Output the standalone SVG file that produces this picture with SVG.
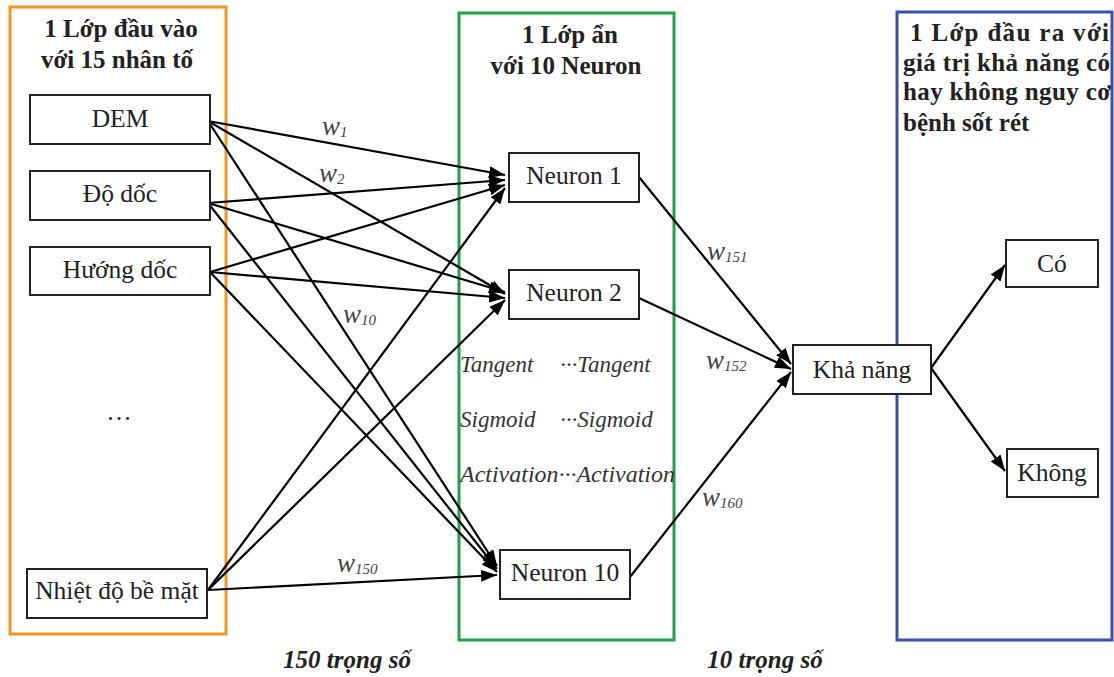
<svg xmlns="http://www.w3.org/2000/svg" width="1114" height="677" viewBox="0 0 1114 677">
<style>
  .frame{fill:none;stroke-width:3}
  .box{fill:#fff;stroke:#222;stroke-width:2}
  text{font-family:'Liberation Serif','Tinos','Times New Roman','DejaVu Serif',serif}
  .lbl{font-size:25.5px;fill:#222;text-anchor:middle}
  .ttl{font-size:25px;font-weight:bold;fill:#222}
  .mid{text-anchor:middle}
  .act{font-size:23px;font-style:italic;fill:#333}
  .w{font-size:27px;font-style:italic;fill:#444}
  .sub{font-size:15px}
  .foot{font-size:25px;font-style:italic;font-weight:bold;fill:#222;text-anchor:middle}
  .ln{stroke:#000;stroke-width:2.2;fill:none;marker-end:url(#ah)}
</style>
<defs>
  <marker id="ah" viewBox="0 0 16 12" refX="16" refY="6" markerWidth="16" markerHeight="12" markerUnits="userSpaceOnUse" orient="auto">
    <path d="M0,0 L16,6 L0,12 z" fill="#000"/>
  </marker>
</defs>
<rect width="1114" height="677" fill="#fff"/>

<g id="layer-frames">
  <rect id="input-layer" class="frame" x="10" y="7" width="216" height="627" stroke="#F7941D"/>
  <rect id="hidden-layer" class="frame" x="459" y="13" width="215" height="627" stroke="#1FA04A"/>
  <rect id="output-layer" class="frame" x="897" y="12" width="215" height="628" stroke="#3A50A8"/>
</g>

<g id="titles">
  <text class="ttl mid" x="121" y="37">1 Lớp đầu vào</text>
  <text class="ttl mid" x="117" y="68">với 15 nhân tố</text>
  <text class="ttl mid" x="570" y="43">1 Lớp ẩn</text>
  <text class="ttl mid" x="566" y="74">với 10 Neuron</text>
  <text class="ttl" x="910" y="41" textLength="199" lengthAdjust="spacing">1 Lớp đầu ra với</text>
  <text class="ttl" x="903" y="71" textLength="207" lengthAdjust="spacing">giá trị khả năng có</text>
  <text class="ttl" x="903" y="100" textLength="208" lengthAdjust="spacing">hay không nguy cơ</text>
  <text class="ttl" x="903" y="131">bệnh sốt rét</text>
</g>

<g id="connectors">
  <line class="ln" x1="208" y1="121" x2="505" y2="175"/>
  <line class="ln" x1="208" y1="121" x2="505" y2="294"/>
  <line class="ln" x1="208" y1="121" x2="497" y2="566"/>
  <line class="ln" x1="208" y1="203" x2="505" y2="180"/>
  <line class="ln" x1="208" y1="203" x2="505" y2="292"/>
  <line class="ln" x1="208" y1="203" x2="497" y2="569"/>
  <line class="ln" x1="210" y1="272" x2="505" y2="185"/>
  <line class="ln" x1="210" y1="272" x2="505" y2="298"/>
  <line class="ln" x1="210" y1="272" x2="497" y2="572"/>
  <line class="ln" x1="208" y1="590" x2="505" y2="188"/>
  <line class="ln" x1="208" y1="590" x2="505" y2="300"/>
  <line class="ln" x1="208" y1="590" x2="497" y2="575"/>
  <line class="ln" x1="639" y1="177" x2="791" y2="364"/>
  <line class="ln" x1="639" y1="298" x2="791" y2="369"/>
  <line class="ln" x1="630" y1="577" x2="791" y2="372"/>
  <line class="ln" x1="931" y1="368" x2="1005" y2="265"/>
  <line class="ln" x1="931" y1="368" x2="1005" y2="471"/>
</g>

<g id="weights">
  <text class="w" x="322" y="135">w<tspan class="sub" dy="2">1</tspan></text>
  <text class="w" x="319" y="182">w<tspan class="sub" dy="2">2</tspan></text>
  <text class="w" x="343" y="323">w<tspan class="sub" dy="2">10</tspan></text>
  <text class="w" x="337" y="572">w<tspan class="sub" dy="2">150</tspan></text>
  <text class="w" x="707" y="260">w<tspan class="sub" dy="2">151</tspan></text>
  <text class="w" x="706" y="369">w<tspan class="sub" dy="2">152</tspan></text>
  <text class="w" x="702" y="506">w<tspan class="sub" dy="2">160</tspan></text>
</g>

<g id="node-dem"><rect class="box" x="30" y="95" width="180" height="49"/><text class="lbl" x="120" y="127">DEM</text></g>
<g id="node-do-doc"><rect class="box" x="30" y="171" width="180" height="49"/><text class="lbl" x="120" y="202">Độ dốc</text></g>
<g id="node-huong-doc"><rect class="box" x="30" y="247" width="180" height="48"/><text class="lbl" x="120" y="278">Hướng dốc</text></g>
<g id="node-ellipsis"><text class="lbl" x="119" y="420" fill="#444">…</text></g>
<g id="node-nhiet-do"><rect class="box" x="27" y="569" width="180" height="49"/><text class="lbl" x="117" y="599">Nhiệt độ bề mặt</text></g>

<g id="node-neuron1"><rect class="box" x="509" y="153" width="130" height="49"/><text class="lbl" x="574" y="184">Neuron 1</text></g>
<g id="node-neuron2"><rect class="box" x="509" y="270" width="130" height="49"/><text class="lbl" x="574" y="301">Neuron 2</text></g>
<g id="node-neuron10"><rect class="box" x="500" y="550" width="130" height="49"/><text class="lbl" x="565" y="581">Neuron 10</text></g>

<g id="activation-labels">
  <text class="act" x="460" y="372">Tangent</text>
  <text class="act" x="560" y="372">···Tangent</text>
  <text class="act" x="460" y="427">Sigmoid</text>
  <text class="act" x="560" y="427">···Sigmoid</text>
  <text class="act" x="460" y="482" textLength="215" lengthAdjust="spacingAndGlyphs">Activation···Activation</text>
</g>

<g id="node-kha-nang"><rect class="box" x="793" y="345" width="138" height="49"/><text class="lbl" x="862" y="378">Khả năng</text></g>
<g id="node-co"><rect class="box" x="1006" y="240" width="92" height="47"/><text class="lbl" x="1052" y="272">Có</text></g>
<g id="node-khong"><rect class="box" x="1007" y="449" width="91" height="48"/><text class="lbl" x="1052" y="481">Không</text></g>

<g id="footer">
  <text class="foot" x="347" y="668">150 trọng số</text>
  <text class="foot" x="765" y="668">10 trọng số</text>
</g>
</svg>
